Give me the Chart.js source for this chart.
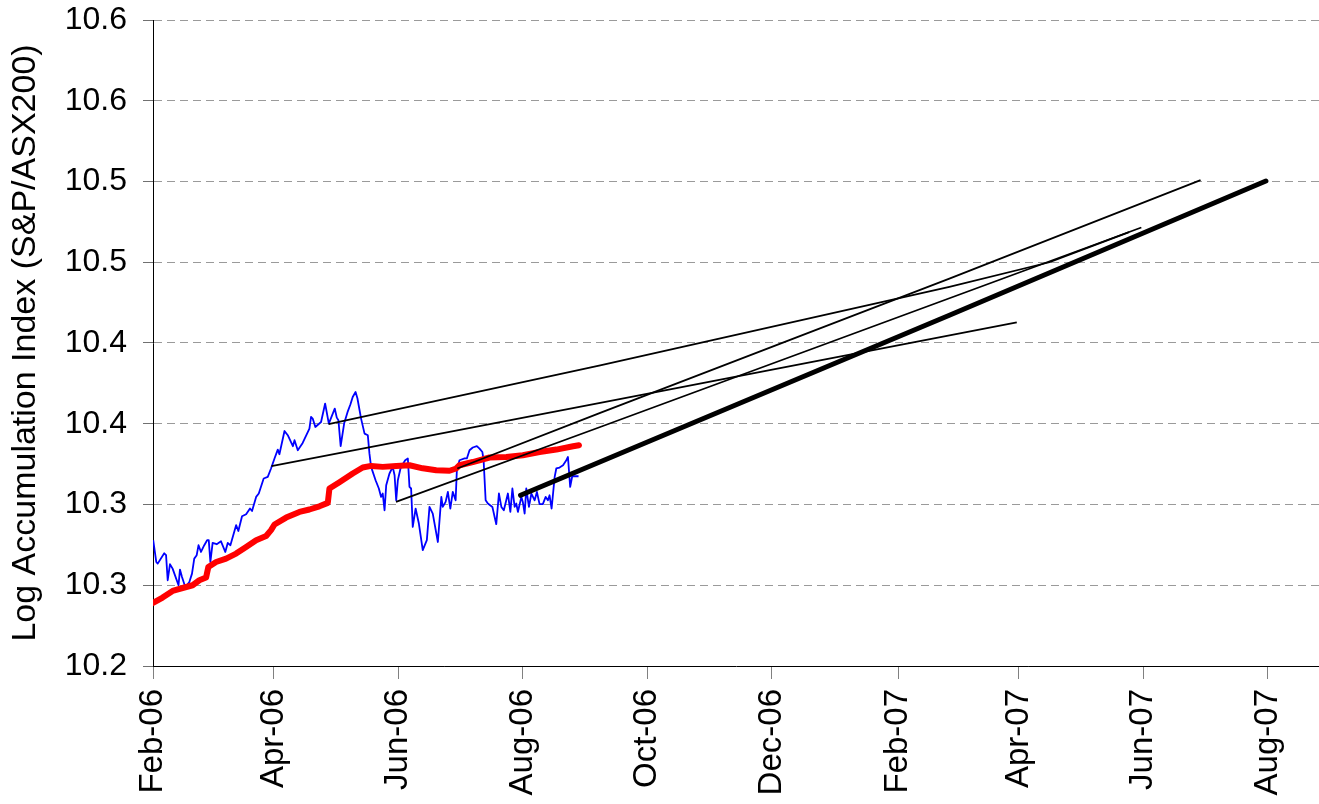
<!DOCTYPE html>
<html>
<head>
<meta charset="utf-8">
<script src="https://cdn.jsdelivr.net/npm/chart.js@4.4.1/dist/chart.umd.min.js"></script>
<style>
  html, body { margin: 0; padding: 0; background: #ffffff; }
  #wrap { width: 1319px; height: 804px; position: relative; }
</style>
</head>
<body>
<div id="wrap"><canvas id="chart"></canvas></div>
<script>
// Day numbers are counted from 1 Feb 2006.
const ORIGIN = Date.UTC(2006, 1, 1);
const dayOf = s => (Date.parse(s + 'T00:00:00Z') - ORIGIN) / 86400000;

const xTickDates  = ['2006-02-01', '2006-04-01', '2006-06-01', '2006-08-01', '2006-10-01',
                     '2006-12-01', '2007-02-01', '2007-04-01', '2007-06-01', '2007-08-01'];
const xTickLabels = ['Feb-06', 'Apr-06', 'Jun-06', 'Aug-06', 'Oct-06',
                     'Dec-06', 'Feb-07', 'Apr-07', 'Jun-07', 'Aug-07'];
const xMaxDay = 571;

const yTickValues = [10.20, 10.25, 10.30, 10.35, 10.40, 10.45, 10.50, 10.55, 10.60];
const yTickLabels = ['10.2', '10.3', '10.3', '10.4', '10.4', '10.5', '10.5', '10.6', '10.6'];

// Daily log accumulation index
const indexDays = [
  0.1, 1.6, 2.3, 5.5, 6.4, 7.2, 8.3, 9.6, 12.5, 13.2, 14.2, 15.8, 17.8, 19.1, 20.2, 21.4, 22.3, 23.5, 25.1, 26.5,
  27.3, 28.1, 29.2, 31.2, 33.3, 35.4, 36.6, 37.9, 40.7, 41.8, 43.6, 45.6, 47.5, 48.5, 50.5, 51.8, 54.2, 56.2, 57.8, 59.5,
  61.1, 61.9, 64.4, 66.0, 68.5, 69.3, 70.9, 73.3, 76.6, 77.4, 78.2, 79.5, 82.3, 84.3, 86.1, 89.0, 90.0, 90.8, 91.9, 93.6,
  95.4, 96.7, 97.8, 99.2, 100.1, 101.9, 103.6, 105.2, 106.0, 106.8, 109.0, 110.6, 111.7, 112.5, 113.4, 114.2, 115.8, 117.4, 118.3, 119.1,
  119.9, 121.2, 122.3, 123.5, 124.8, 125.6, 126.4, 127.2, 128.6, 130.2, 132.1, 134.1, 135.4, 137.0, 139.5, 141.2, 141.9, 143.3, 144.4, 145.6,
  146.8, 148.2, 148.8, 150.1, 152.6, 153.7, 155.0, 156.6, 158.6, 159.9, 161.3, 161.9, 162.9, 164.0, 166.2, 167.3, 168.1, 169.4, 170.6, 171.8,
  173.0, 173.8, 175.0, 176.0, 177.1, 177.9, 178.7, 180.4, 181.1, 182.0, 182.8, 184.1, 185.3, 186.9, 188.0, 189.3, 190.9, 192.3, 193.4, 194.2,
  195.2, 196.7, 197.5, 199.1, 200.8, 202.4, 203.2, 204.3, 205.3, 208.4
];
const indexValues = [
  10.2779, 10.2644, 10.2634, 10.2698, 10.2686, 10.2531, 10.2630, 10.2603, 10.2500, 10.2597, 10.2551, 10.2489, 10.2520, 10.2572, 10.2665, 10.2686, 10.2748, 10.2706, 10.2748, 10.2779,
  10.2779, 10.2644, 10.2762, 10.2754, 10.2772, 10.2706, 10.2762, 10.2748, 10.2872, 10.2836, 10.2927, 10.2940, 10.2975, 10.2960, 10.3047, 10.3068, 10.3161, 10.3171, 10.3223, 10.3285,
  10.3340, 10.3311, 10.3455, 10.3429, 10.3361, 10.3398, 10.3336, 10.3381, 10.3470, 10.3542, 10.3532, 10.3480, 10.3511, 10.3625, 10.3501, 10.3594, 10.3538, 10.3522, 10.3361, 10.3501,
  10.3577, 10.3621, 10.3666, 10.3697, 10.3658, 10.3532, 10.3439, 10.3429, 10.3315, 10.3233, 10.3150, 10.3099, 10.3047, 10.3068, 10.2964, 10.3119, 10.3192, 10.3233, 10.3181, 10.3026,
  10.3150, 10.3223, 10.3249, 10.3274, 10.3285, 10.3109, 10.3099, 10.2861, 10.2975, 10.2882, 10.2717, 10.2779, 10.2985, 10.2944, 10.2768, 10.3047, 10.2985, 10.3016, 10.3078, 10.2975,
  10.3078, 10.3026, 10.3212, 10.3274, 10.3285, 10.3285, 10.3336, 10.3353, 10.3361, 10.3346, 10.3325, 10.3274, 10.3026, 10.3006, 10.2985, 10.2923, 10.2878, 10.3068, 10.2985, 10.2964,
  10.3026, 10.3068, 10.2954, 10.3099, 10.2985, 10.3006, 10.2954, 10.3047, 10.3016, 10.2944, 10.3099, 10.2985, 10.3068, 10.3026, 10.3078, 10.3002, 10.3002, 10.3047, 10.3026, 10.3057,
  10.2975, 10.3171, 10.3223, 10.3229, 10.3243, 10.3274, 10.3294, 10.3109, 10.3175, 10.3175
];

// Running average of the index
const avgDays = [
  0, 4.7, 9.6, 14.5, 19.4, 22.7, 26.0, 27.1, 30.9, 35.8, 40.7, 45.6, 50.5, 55.4, 57.8, 59.5, 65.2, 71.7, 76.6, 81.5,
  85.6, 86.4, 91.3, 97.8, 102.7, 106.8, 112.5, 119.1, 125.6, 132.1, 138.7, 145.2, 148.5, 150.1, 156.6, 164.8, 173.0, 181.1, 189.3, 197.5,
  205.7, 208.6
];
const avgValues = [
  10.2390, 10.2424, 10.2465, 10.2483, 10.2500, 10.2531, 10.2548, 10.2613, 10.2644, 10.2665, 10.2696, 10.2737, 10.2779, 10.2805, 10.2841, 10.2876, 10.2919, 10.2954, 10.2969, 10.2989,
  10.3010, 10.3099, 10.3138, 10.3192, 10.3229, 10.3239, 10.3233, 10.3239, 10.3243, 10.3224, 10.3212, 10.3209, 10.3223, 10.3243, 10.3263, 10.3291, 10.3294, 10.3305, 10.3325, 10.3340,
  10.3361, 10.3367
];

// Projections from month-end starting points
const projMarDays = [58, 219, 423];
const projMarValues = [10.3237, 10.3629, 10.4128];
const projAprDays = [86, 219, 390, 439, 478];
const projAprValues = [10.3497, 10.3862, 10.4347, 10.4500, 10.4686];
const projMayDays = [119, 219, 484];
const projMayValues = [10.3016, 10.3480, 10.4715];
const projJunDays = [149, 219, 390, 513];
const projJunValues = [10.3223, 10.3567, 10.4399, 10.5008];
const projJulDays = [180, 390, 545];
const projJulValues = [10.3057, 10.4172, 10.5003];

const pts = (xs, ys) => xs.map((x, i) => ({ x: x, y: ys[i] }));
const xTickDays = xTickDates.map(dayOf);

Chart.defaults.font.family = '"Liberation Sans", Arial, sans-serif';
Chart.defaults.color = '#000000';

const thin = (data) => ({
  data: data, borderColor: '#000000', borderWidth: 1.8, pointRadius: 0,
  tension: 0, fill: false, borderJoinStyle: 'round'
});

new Chart(document.getElementById('chart'), {
  type: 'line',
  data: {
    datasets: [
      Object.assign(thin(pts(projJulDays, projJulValues)), { borderWidth: 5, borderCapStyle: 'round' }),
      thin(pts(projMarDays, projMarValues)),
      thin(pts(projAprDays, projAprValues)),
      thin(pts(projMayDays, projMayValues)),
      thin(pts(projJunDays, projJunValues)),
      {
        data: pts(avgDays, avgValues), borderColor: '#ff0000', borderWidth: 6,
        pointRadius: 0, tension: 0, fill: false, borderCapStyle: 'round', borderJoinStyle: 'round'
      },
      {
        data: pts(indexDays, indexValues), borderColor: '#0000ff', borderWidth: 1.8,
        pointRadius: 0, tension: 0, fill: false, borderJoinStyle: 'round'
      }
    ]
  },
  options: {
    responsive: true,
    maintainAspectRatio: false,
    animation: false,
    devicePixelRatio: 1,
    layout: { padding: { top: 20, right: 0, bottom: 0, left: 0 } },
    plugins: { legend: { display: false }, tooltip: { enabled: false }, title: { display: false } },
    scales: {
      x: {
        type: 'linear',
        min: 0,
        max: xMaxDay,
        afterBuildTicks: s => { s.ticks = xTickDays.map(v => ({ value: v })); },
        afterFit: s => { s.height = 138; s.paddingLeft = 0; s.paddingRight = 0; },
        ticks: {
          autoSkip: false, minRotation: 90, maxRotation: 90, padding: 10,
          color: '#000000', font: { size: 33 },
          callback: (v, i) => xTickLabels[i]
        },
        grid: { drawOnChartArea: false, drawTicks: true, tickLength: 13, tickColor: '#808080', tickWidth: 1 },
        border: { display: true, color: '#000000', width: 1 }
      },
      y: {
        type: 'linear',
        min: 10.2,
        max: 10.6,
        afterBuildTicks: s => { s.ticks = yTickValues.map(v => ({ value: v })); },
        afterFit: s => { s.width = 153; s.paddingTop = 0; s.paddingBottom = 0; },
        ticks: {
          padding: 16, color: '#000000', font: { size: 32 },
          callback: (v, i) => yTickLabels[i]
        },
        grid: { color: '#9a9a9a', lineWidth: 1, drawTicks: true, tickLength: 10, tickColor: '#707070', tickBorderDash: [] },
        border: { display: true, color: '#000000', width: 1, dash: [8, 5] },
        title: {
          display: true, text: 'Log Accumulation Index (S&P/ASX200)', color: '#000000',
          font: { size: 34 }, padding: { top: 5, bottom: 0 }
        }
      }
    }
  }
});
</script>
</body>
</html>
